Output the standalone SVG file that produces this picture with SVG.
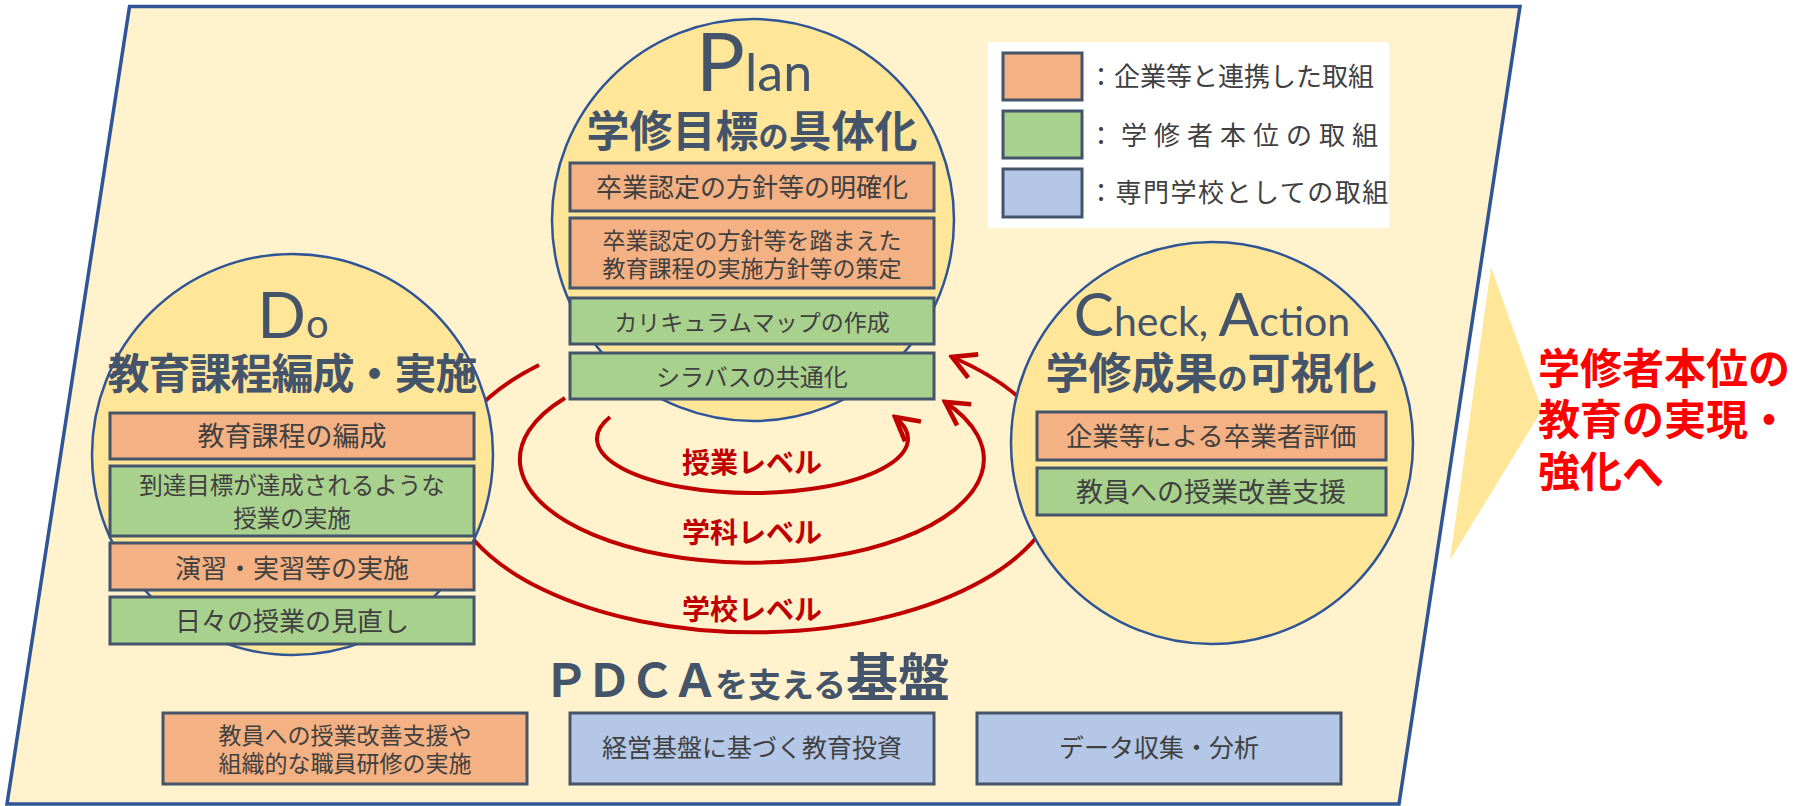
<svg xmlns="http://www.w3.org/2000/svg" width="1798" height="806" viewBox="0 0 1798 806">
<style>
.jp{font-family:"Noto Sans CJK JP","Noto Sans",sans-serif;}
.boxtxt{font-family:"Noto Sans CJK JP","Noto Sans",sans-serif;fill:#404040;text-anchor:middle;}
.or{fill:#F4B183;stroke:#44546A;stroke-width:3;}
.gr{fill:#A9D18E;stroke:#44546A;stroke-width:3;}
.bl{fill:#B4C7E7;stroke:#44546A;stroke-width:3;}
.circ{fill:#FFE699;stroke:#2F5597;stroke-width:2.5;}
.title{font-family:"Noto Sans CJK JP","Noto Sans",sans-serif;font-weight:bold;fill:#44546A;text-anchor:middle;}
.latin{font-family:Lato,"Open Sans",sans-serif;fill:#44546A;text-anchor:middle;}
.ring{fill:none;stroke:#C00000;stroke-width:4;}
.lvl{font-family:"Noto Sans CJK JP",sans-serif;font-weight:bold;fill:#C00000;font-size:28px;text-anchor:middle;}
.leg{font-family:"Noto Sans CJK JP","Noto Sans",sans-serif;fill:#404040;font-size:26px;}
</style>
<defs>
<marker id="ah" markerUnits="userSpaceOnUse" markerWidth="30" markerHeight="30" viewBox="0 0 26 26" refX="23" refY="13" orient="auto">
<path d="M3,2 L23,13 L3,24" fill="none" stroke="#C00000" stroke-width="4" stroke-linejoin="miter"/>
</marker>
</defs>

<g id="background">
<polygon points="129.5,6.5 1520,6.5 1399,804 7,804" fill="#FFF2CC" stroke="#2F5597" stroke-width="3.5"/>
</g>

<g id="goal">
<polygon points="1491,267 1542,410 1450,560" fill="#FFE699"/>
<text class="jp" font-weight="bold" font-size="42" fill="#FF0000">
<tspan x="1538" y="384">学修者本位の</tspan>
<tspan x="1538" y="435">教育の実現・</tspan>
<tspan x="1538" y="487">強化へ</tspan>
</text>
</g>

<g id="connectors">
<path class="ring" d="M 539 365 A 307 156 0 1 0 952 357" marker-end="url(#ah)"/>
<path class="ring" d="M 565 398 A 232 103.4 0 1 0 945 402" marker-end="url(#ah)"/>
<path class="ring" d="M 610 417 A 155.5 54.3 0 1 0 895 417" marker-end="url(#ah)"/>
<text class="lvl" x="752" y="473">授業レベル</text>
<text class="lvl" x="752" y="543">学科レベル</text>
<text class="lvl" x="752" y="620">学校レベル</text>
</g>

<g id="plan">
<circle class="circ" cx="753" cy="220" r="201"/>
<text class="latin" x="754" y="91"><tspan font-size="82">P</tspan><tspan font-size="52">lan</tspan></text>
<text class="title" x="752" y="147" font-size="43">学修目標<tspan font-size="30">の</tspan>具体化</text>
<rect class="or" x="570" y="163" width="364" height="48"/>
<text class="boxtxt" x="752" y="197" font-size="26">卒業認定の方針等の明確化</text>
<rect class="or" x="570" y="218" width="364" height="70"/>
<text class="boxtxt" x="752" y="249" font-size="23">卒業認定の方針等を踏まえた</text>
<text class="boxtxt" x="752" y="277" font-size="23">教育課程の実施方針等の策定</text>
<rect class="gr" x="570" y="298" width="364" height="46"/>
<text class="boxtxt" x="752" y="331" font-size="23">カリキュラムマップの作成</text>
<rect class="gr" x="570" y="353" width="364" height="46"/>
<text class="boxtxt" x="752" y="386" font-size="24">シラバスの共通化</text>
</g>

<g id="do">
<circle class="circ" cx="292.5" cy="454.5" r="200.5"/>
<text class="latin" x="293" y="338"><tspan font-size="64">D</tspan><tspan font-size="40">o</tspan></text>
<text class="title" x="292" y="389" font-size="42" letter-spacing="-1">教育課程編成・実施</text>
<rect class="or" x="110" y="413" width="364" height="46"/>
<text class="boxtxt" x="292" y="446" font-size="27">教育課程の編成</text>
<rect class="gr" x="110" y="466" width="364" height="70"/>
<text class="boxtxt" x="292" y="494" font-size="23.5">到達目標が達成されるような</text>
<text class="boxtxt" x="292" y="527" font-size="23.5">授業の実施</text>
<rect class="or" x="110" y="543" width="364" height="47"/>
<text class="boxtxt" x="292" y="578" font-size="26">演習・実習等の実施</text>
<rect class="gr" x="110" y="597" width="364" height="47"/>
<text class="boxtxt" x="292" y="631" font-size="26">日々の授業の見直し</text>
</g>

<g id="check-action">
<circle class="circ" cx="1212" cy="443" r="201"/>
<text class="latin" x="1212" y="336"><tspan font-size="60">C</tspan><tspan font-size="41">heck, </tspan><tspan font-size="60">A</tspan><tspan font-size="41">ction</tspan></text>
<text class="title" x="1211" y="389" font-size="43">学修成果<tspan font-size="30">の</tspan>可視化</text>
<rect class="or" x="1037" y="412" width="349" height="48"/>
<text class="boxtxt" x="1211" y="446" font-size="26.5">企業等による卒業者評価</text>
<rect class="gr" x="1037" y="468" width="349" height="47"/>
<text class="boxtxt" x="1211" y="502" font-size="27">教員への授業改善支援</text>
</g>

<g id="legend">
<rect x="988" y="42" width="401" height="186" fill="#FFFFFF"/>
<rect class="or" x="1003" y="53" width="79" height="47"/>
<rect class="gr" x="1003" y="111" width="79" height="47"/>
<rect class="bl" x="1003" y="169" width="79" height="48"/>
<text class="leg" x="1088" y="86">：企業等と連携した取組</text>
<text class="leg" x="1088" y="145" letter-spacing="7">：学修者本位の取組</text>
<text class="leg" x="1088" y="202" letter-spacing="1.5">：専門学校としての取組</text>
</g>

<g id="foundation">
<text class="jp" x="543" y="697" font-weight="bold" fill="#44546A"><tspan font-size="46" letter-spacing="-3">ＰＤＣＡ</tspan><tspan font-size="33">を支える</tspan><tspan font-size="52">基盤</tspan></text>
</g>

<g id="foundation-1">
<rect class="or" x="163" y="713" width="364" height="71"/>
<text class="boxtxt" x="345" y="744" font-size="23">教員への授業改善支援や</text>
<text class="boxtxt" x="345" y="772" font-size="23">組織的な職員研修の実施</text>
</g>
<g id="foundation-2">
<rect class="bl" x="570" y="713" width="364" height="71"/>
<text class="boxtxt" x="752" y="757" font-size="25">経営基盤に基づく教育投資</text>
</g>
<g id="foundation-3">
<rect class="bl" x="977" y="713" width="364" height="71"/>
<text class="boxtxt" x="1159" y="757" font-size="25">データ収集・分析</text>
</g>
</svg>
